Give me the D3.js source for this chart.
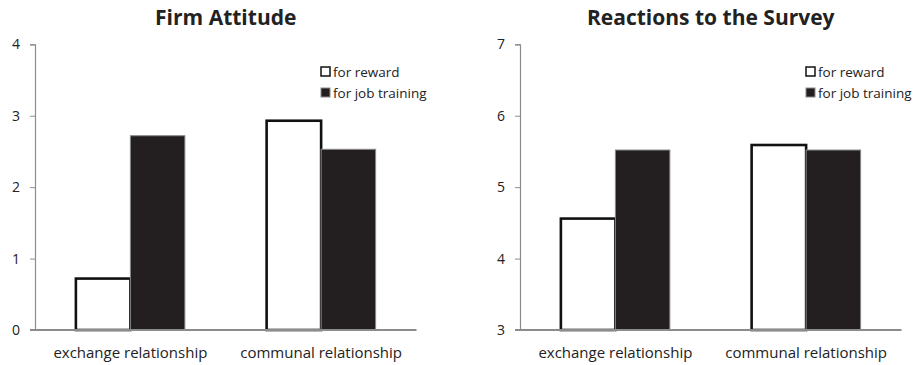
<!DOCTYPE html>
<html><head><meta charset="utf-8">
<script src="https://cdn.jsdelivr.net/npm/d3@7"></script>
<style>body{margin:0;background:#fff}svg{display:block}text{font-family:"Open Sans","Noto Sans",sans-serif;fill:#222}</style>
</head><body><svg id="c" width="915" height="365"></svg>
<script>
const categories = ["exchange relationship", "communal relationship"];
const seriesNames = ["for reward", "for job training"];
const firmTitle = "Firm Attitude";
const firmReward = [0.72, 2.93];
const firmTraining = [2.72, 2.53];
const firmTicks = [0, 1, 2, 3, 4];
const surveyTitle = "Reactions to the Survey";
const surveyReward = [4.56, 5.59];
const surveyTraining = [5.52, 5.52];
const surveyTicks = [3, 4, 5, 6, 7];

const svg = d3.select("#c");
const plotW = 381.5, plotTop = 44.3, plotBottom = 330;

function panel(ox, title, reward, training, ticks) {
  const g = svg.append("g").attr("transform", `translate(${ox},0)`);
  const y = d3.scaleLinear().domain([ticks[0], ticks[ticks.length-1]]).range([plotBottom, plotTop]);
  const x0 = d3.scaleBand().domain(categories).range([0, plotW]).padding(0);
  const x1 = d3.scaleBand().domain(seriesNames).range([0, x0.bandwidth()]).paddingInner(0).paddingOuter(0.75);
  const vals = [reward, training];

  g.append("text").attr("x", plotW/2).attr("y", 25).attr("text-anchor", "middle")
    .style("font-size", "21px").style("font-weight", "bold").text(title);

  categories.forEach((c, ci) => {
    seriesNames.forEach((s, si) => {
      const v = vals[si][ci];
      g.append("rect")
        .attr("x", x0(c) + x1(s))
        .attr("y", y(v))
        .attr("width", x1.bandwidth())
        .attr("height", plotBottom - y(v))
        .attr("fill", si === 0 ? "#fff" : "#231f20")
        .attr("stroke", si === 0 ? "#111" : "#8a8a8a")
        .attr("stroke-width", si === 0 ? 2.6 : 1);
    });
  });

  const ya = g.append("g").call(d3.axisLeft(y).tickValues(ticks).tickSize(5).tickPadding(10).tickFormat(d3.format("d")));
  ya.select(".domain").attr("stroke", "#8c8c8c").attr("stroke-width", 1.2);
  ya.selectAll(".tick line").attr("stroke", "#8c8c8c");
  ya.selectAll(".tick text").style("font-size", "14px").style("font-family", '"Open Sans",sans-serif').attr("fill", "#222");

  g.append("line").attr("x1", -5).attr("x2", plotW).attr("y1", plotBottom).attr("y2", plotBottom)
    .attr("stroke", "#8c8c8c").attr("stroke-width", 2);
  categories.forEach(c => {
    g.append("text").attr("x", x0(c) + x0.bandwidth()/2).attr("y", 358)
      .attr("text-anchor", "middle").style("font-size", "15px").text(c);
  });

  seriesNames.forEach((s, si) => {
    const ly = 72 + si * 21;
    g.append("rect").attr("x", 286).attr("y", ly - 5).attr("width", 9).attr("height", 9)
      .attr("fill", si === 0 ? "#fff" : "#231f20")
      .attr("stroke", si === 0 ? "#111" : "#8a8a8a").attr("stroke-width", si === 0 ? 1.5 : 1);
    g.append("text").attr("x", 298).attr("y", ly + 5).style("font-size", "13.5px").text(s);
  });
}

panel(35, firmTitle, firmReward, firmTraining, firmTicks);
panel(520, surveyTitle, surveyReward, surveyTraining, surveyTicks);
</script></body></html>
